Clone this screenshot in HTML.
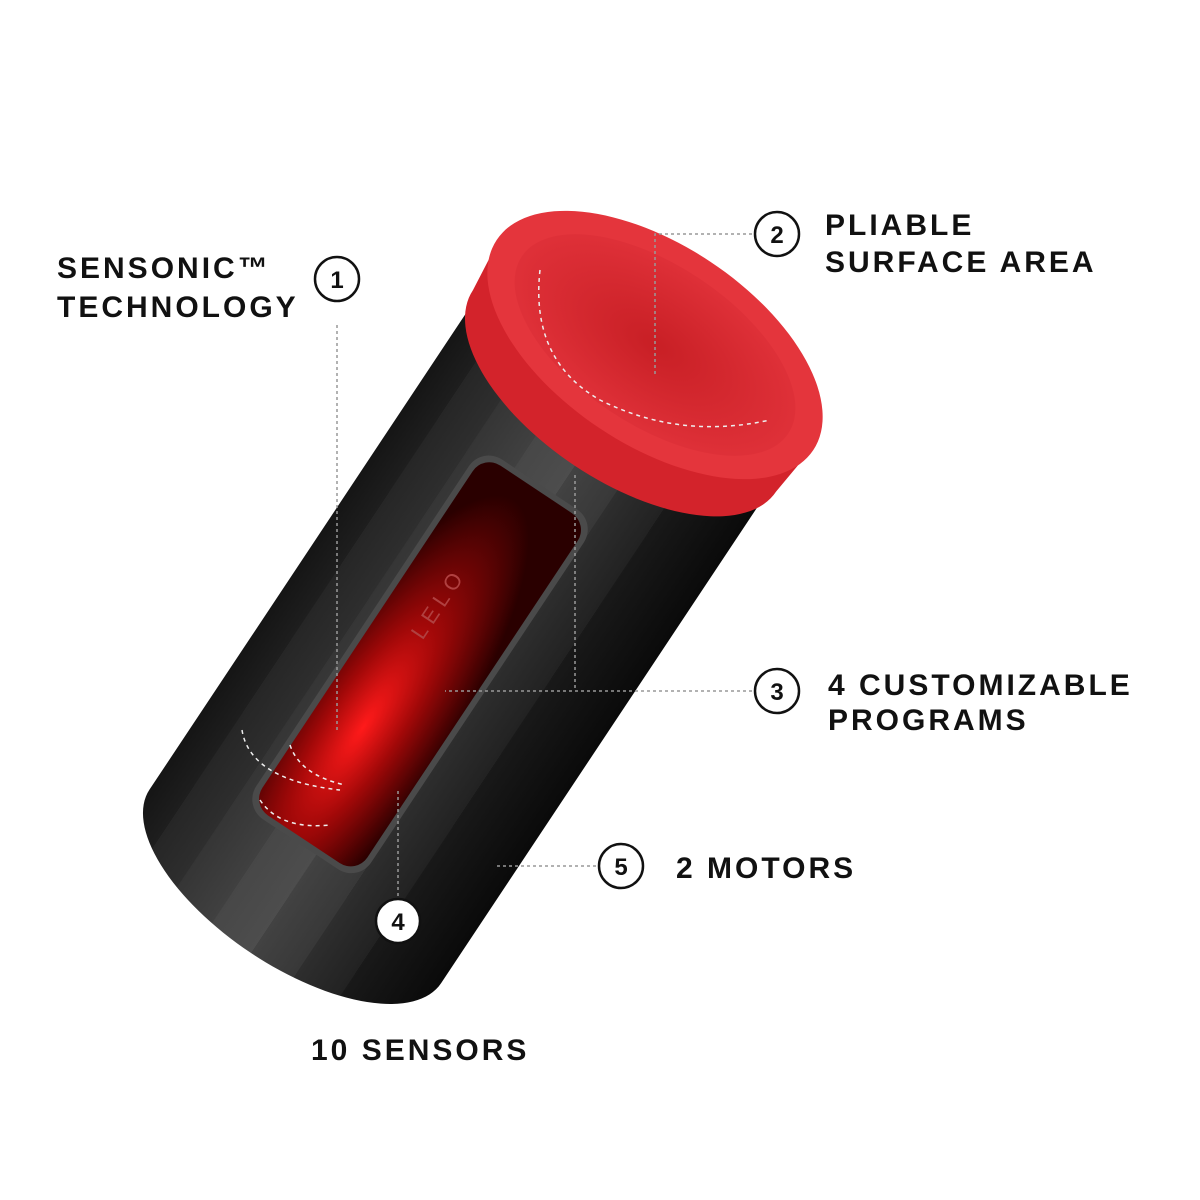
<!DOCTYPE html>
<html><head><meta charset="utf-8"><style>
html,body{margin:0;padding:0;background:#fff;}
svg{display:block;}
text{font-family:"Liberation Sans",sans-serif;font-weight:bold;fill:#111;font-size:30px;letter-spacing:3px;}
.n{font-size:24px;text-anchor:middle;letter-spacing:0;}
</style></head><body>
<svg width="1200" height="1200" viewBox="0 0 1200 1200" xmlns="http://www.w3.org/2000/svg">
<defs>
<linearGradient id="body" x1="-175" y1="0" x2="175" y2="0" gradientUnits="userSpaceOnUse">
<stop offset="0" stop-color="#151515"/>
<stop offset="0.1" stop-color="#1e1e1e"/>
<stop offset="0.1" stop-color="#262626"/>
<stop offset="0.22" stop-color="#2e2e2e"/>
<stop offset="0.22" stop-color="#353535"/>
<stop offset="0.36" stop-color="#404040"/>
<stop offset="0.36" stop-color="#474747"/>
<stop offset="0.5" stop-color="#4d4d4d"/>
<stop offset="0.5" stop-color="#424242"/>
<stop offset="0.64" stop-color="#383838"/>
<stop offset="0.64" stop-color="#2e2e2e"/>
<stop offset="0.78" stop-color="#222"/>
<stop offset="0.78" stop-color="#191919"/>
<stop offset="1" stop-color="#0a0a0a"/>
</linearGradient>
<radialGradient id="win" cx="0.4" cy="0.7" r="0.65">
<stop offset="0" stop-color="#ff1a1a"/>
<stop offset="0.45" stop-color="#a00808"/>
<stop offset="1" stop-color="#2a0000"/>
</radialGradient>
<radialGradient id="inner" cx="0.5" cy="0.5" r="0.55">
<stop offset="0" stop-color="#c81f25"/>
<stop offset="1" stop-color="#e1323a"/>
</radialGradient>
</defs>
<g transform="translate(655,345) rotate(33.6)">
  <path d="M-175,40 L175,40 L175,650 A175,80 0 0 1 -175,650 Z" fill="url(#body)"/>
  <rect x="-88" y="180" width="138" height="432" rx="24" fill="#4a4a4a"/>
  <rect x="-82" y="186" width="126" height="420" rx="20" fill="url(#win)"/>
  <text x="0" y="0" transform="translate(-30,375) rotate(-90)" style="font-size:22px;fill:#b04040;font-weight:normal;letter-spacing:6px">LELO</text>
  <path d="M-188,0 L-182,55 A182,90 0 0 0 182,55 L188,0 Z" fill="#d3232b"/>
  <ellipse cx="0" cy="0" rx="190" ry="100" fill="#e4353c"/>
  <ellipse cx="0" cy="0" rx="160" ry="80" fill="url(#inner)"/>
</g>
<g stroke="#999" stroke-width="1.5" stroke-dasharray="3,3" fill="none">
  <line x1="337" y1="325" x2="337" y2="730"/>
  <polyline points="752,234 655,234 655,375"/>
  <line x1="752" y1="691" x2="445" y2="691"/>
  <line x1="575" y1="475" x2="575" y2="691"/>
  <line x1="596" y1="866" x2="495" y2="866"/>
  <line x1="398" y1="896" x2="398" y2="790"/>
</g>
<g stroke="#eee" stroke-width="1.5" stroke-dasharray="4,4" fill="none">
  <path d="M540,270 Q530,360 600,400 Q680,440 770,420"/>
  <path d="M242,730 Q250,780 340,790"/>
  <path d="M290,745 Q300,775 345,785"/>
  <path d="M260,800 Q280,830 330,825"/>
</g>
<g fill="#fff" stroke="#111" stroke-width="2.5">
  <circle cx="337" cy="279" r="22"/>
  <circle cx="777" cy="234" r="22"/>
  <circle cx="777" cy="691" r="22"/>
  <circle cx="621" cy="866" r="22"/>
  <circle cx="398" cy="921" r="22"/>
</g>
<text class="n" x="337" y="288">1</text>
<text class="n" x="777" y="243">2</text>
<text class="n" x="777" y="700">3</text>
<text class="n" x="621" y="875">5</text>
<text class="n" x="398" y="930">4</text>
<text x="57" y="278">SENSONIC™</text>
<text x="57" y="317">TECHNOLOGY</text>
<text x="825" y="235">PLIABLE</text>
<text x="825" y="272">SURFACE AREA</text>
<text x="828" y="695">4 CUSTOMIZABLE</text>
<text x="828" y="730">PROGRAMS</text>
<text x="676" y="878">2 MOTORS</text>
<text x="311" y="1060">10 SENSORS</text>
</svg>
</body></html>
